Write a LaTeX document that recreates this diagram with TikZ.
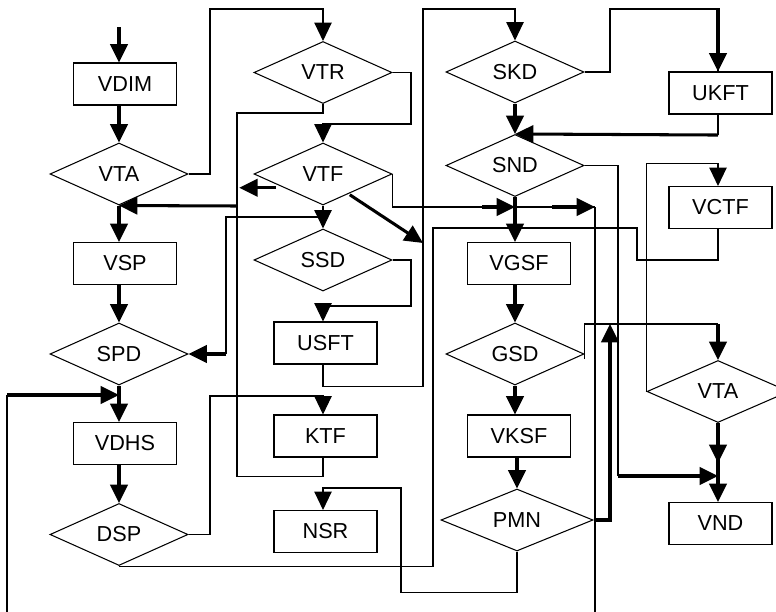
\documentclass[tikz,border=0pt]{standalone}
\usepackage{fontspec}
\setmainfont{Liberation Sans}
\usepackage{tikz}
\usetikzlibrary{shapes.geometric,arrows.meta}
\tikzset{
  box/.style={draw,rectangle,line width=0.9pt,minimum width=3.09cm,minimum height=1.26cm,inner sep=0pt,font=\fontsize{18.5pt}{20pt}\selectfont},
  dec/.style={draw,diamond,aspect=2.2,line width=0.9pt,minimum width=4.14cm,minimum height=1.86cm,inner sep=0pt,font=\fontsize{18.5pt}{20pt}\selectfont},
  wire/.style={line width=0.9pt},
  link/.style={wire,-{Triangle[length=0.55cm,width=0.52cm]}},
  flow/.style={line width=2.6pt,-{Triangle[length=0.55cm,width=0.52cm]}}
}

\begin{document}
\begin{tikzpicture}[x=0.03cm,y=-0.03cm]
\useasboundingbox (0,0) rectangle (776,612);
\node[box] (vdim) at (125,84) {VDIM};
\node[dec] (vtal) at (119,174) {VTA};
\node[box] (vsp) at (125,263.5) {VSP};
\node[dec] (spd) at (119,354) {SPD};
\node[box] (vdhs) at (125,443.5) {VDHS};
\node[dec] (dsp) at (119,534.5) {DSP};
\node[dec] (vtr) at (323,72.5) {VTR};
\node[dec] (vtf) at (323,174) {VTF};
\node[dec] (ssd) at (323,260) {SSD};
\node[box] (usft) at (325.5,343) {USFT};
\node[box] (ktf) at (325.5,436) {KTF};
\node[box] (nsr) at (325.5,531.5) {NSR};
\node[dec] (skd) at (515,72) {SKD};
\node[dec] (snd) at (515,165.5) {SND};
\node[box] (vgsf) at (519,263.5) {VGSF};
\node[dec] (gsd) at (515,354) {GSD};
\node[box] (vksf) at (519,436) {VKSF};
\node[dec,minimum width=4.56cm] (pmn) at (517,520) {PMN};
\node[box] (ukft) at (720.5,93) {UKFT};
\node[box] (vctf) at (720.5,207.5) {VCTF};
\node[dec,minimum width=4.26cm] (vtar) at (718,391.5) {VTA};
\node[box] (vnd) at (720.5,523.5) {VND};

\coordinate (in) at (119,27);
\coordinate (a1) at (237,206);
\coordinate (a2) at (226,354);
\coordinate (j1) at (515,207);
\coordinate (j2) at (595,207);
\coordinate (j3) at (323,217);
\coordinate (j4) at (718,476);
\coordinate (u1) at (423,243);
\coordinate (s1) at (618,476);
\coordinate (g1) at (718,324);
\coordinate (p1) at (610,324);
\coordinate (l1) at (7,395);
\coordinate (b1) at (7,612);
\coordinate (b2) at (595,612);

\draw[flow] (in) -- (vdim.north -| in);
\draw[flow] (vdim.south -| vtal) -- (vtal.north);
\draw[flow] (vtal.south) -- (vsp.north -| vtal);
\draw[flow] (vsp.south -| spd) -- (spd.north);
\draw[flow] (spd.south) -- (vdhs.north -| spd);
\draw[flow] (vdhs.south -| dsp) -- (dsp.north);

\draw[link] (vtal.east) -| (210,9) -| (vtr.north);
\draw[link] (vtr.east) -| (411,124) -| (vtf.north);
\draw[wire] (ktf.south -| vtr) -- ++(0,19) -| (237,113) -| (vtr.south);
\draw[flow] (vtf.south west) ++(-12,-2) -- ++(-37,0);
\draw[flow] (a1) -- (vtal.south);
\draw[wire] (vtf.east) |- (j1);
\draw[flow] (j1) ++(-33,0) -- (j1);
\draw[wire] (j1) -- (j2);
\draw[flow] (j2) ++(-43,0) -- (j2);
\draw[wire] (j2) -- (b2);
\draw[flow] (vtf.south east) ++(-8,5) -- (u1);
\draw[link] (usft.south -| vtf) -- ++(0,22) -| (423,9) -| (skd.north);
\draw[link] (vtf.south) -- (ssd.north);
\draw[wire] (j3) -| (a2);
\draw[flow] (a2) -- (spd.east);
\draw[link] (ssd.east) -| (411,306) -| (usft.north -| ssd);
\draw[link] (dsp.east) -| (210,396) -| (ktf.north -| ssd);
\draw[wire] (dsp.south) -| (433,228) -| (637,260) -| (vctf.south -| vtar);
\draw[link] (pmn.south) -- ++(0,41) -| (401,488) -| (nsr.north -| ssd);

\draw[flow] (skd.south) -- (snd.north);
\draw[wire] (skd.east) -| (610,9) -| (ukft.north -| vtar);
\draw[flow] (ukft.north -| vtar) ++(0,-63) -- (ukft.north -| vtar);
\draw[wire] (ukft.south -| vtar) -- ++(0,20.5) coordinate (k2);
\draw[flow] (k2) -- (snd.north);
\draw[wire] (snd.east) -| (s1);
\draw[flow] (s1) -- (j4);
\draw[flow] (snd.south) -- (vgsf.north -| snd);
\draw[flow] (vgsf.south -| gsd) -- (gsd.north);
\draw[flow] (gsd.south) -- (vksf.north -| gsd);
\draw[flow] (vksf.south -| pmn) -- (pmn.north);
\draw[wire] (gsd.east) ++(0,5) |- (g1);
\draw[flow] (g1) -- (vtar.north);
\draw[flow] (pmn.east) -| (p1);
\draw[link] (vtar.west) -- ++(0,-228) -| (vctf.north -| vtar);
\draw[flow] (vtar.south) -- ++(0,40);
\draw[flow] (vtar.south) -- (vnd.north -| vtar);
\draw[wire] (b1) -- (l1);
\draw[flow] (l1) -- (l1 -| spd);
\end{tikzpicture}
\end{document}
